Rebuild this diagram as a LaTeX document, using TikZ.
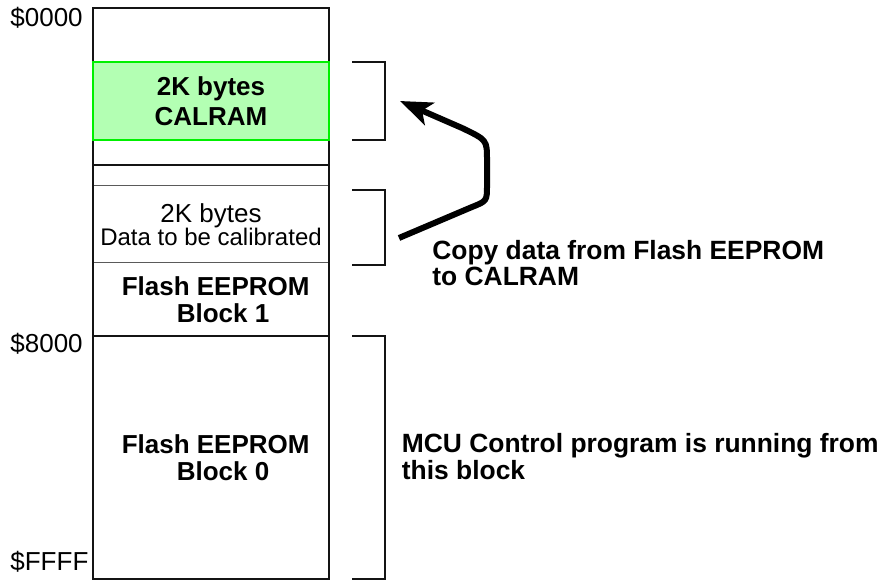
\documentclass[tikz,border=0pt]{standalone}
\usepackage{fontspec}
\setmainfont{Liberation Sans}
\usetikzlibrary{arrows.meta,positioning,fit}
\definecolor{calbdr}{RGB}{0,240,0}
\definecolor{calfill}{RGB}{179,255,179}
\definecolor{lineclr}{RGB}{20,20,20}
\definecolor{thinclr}{RGB}{90,90,90}
\tikzset{
  memblk/.style={rectangle,draw=thinclr,line width=0.5pt,fill=white,
    minimum width=118pt,inner sep=0pt,outer sep=0pt,align=center,text=black},
  frame/.style={draw=lineclr,line width=1.2pt},
  calblk/.style={memblk,draw=calbdr,line width=1pt,fill=calfill,
    font=\fontsize{13}{15}\selectfont\bfseries},
  flblk/.style={memblk,font=\fontsize{13}{13.3}\selectfont\bfseries},
  adr/.style={font=\fontsize{13}{15}\selectfont,anchor=base west,inner sep=0pt},
  note/.style={font=\fontsize{13.2}{13}\selectfont\bfseries,align=left,
    anchor=north west,inner sep=0pt},
  brk/.style={draw=lineclr,line width=1pt},
  cparr/.style={-{Stealth[length=16pt,width=12pt,inset=4pt]},line width=3pt,
    color=black},
}
\begin{document}
\begin{tikzpicture}[x=0.5pt,y=-0.5pt]
  \useasboundingbox (0,0) rectangle (884,581);

  % RAM area
  \node[memblk,draw=lineclr,line width=0.7pt,minimum height=78.5pt,
    anchor=north west] (ram) at (93,8) {};
  \node[calblk,minimum height=39pt,below=27pt of ram.north] (calram)
    {2K bytes\\CALRAM};

  % Flash area
  \node[memblk,minimum height=10.5pt,anchor=north west] (gapblk) at (93,165) {};
  \node[memblk,minimum height=38.5pt,below=0pt of gapblk,
    font=\fontsize{12}{11.7}\selectfont] (datablk)
    {{\fontsize{13}{11.7}\selectfont 2K bytes}\\Data to be calibrated};
  \node[flblk,minimum height=36.5pt,below=0pt of datablk] (blk1)
    {\hspace*{4.7pt}Flash EEPROM\\\hspace*{12pt}Block 1};
  \node[flblk,frame,minimum height=121.5pt,below=0pt of blk1] (blk0)
    {\hspace*{4.7pt}Flash EEPROM\\\hspace*{12pt}Block 0};
  \draw[frame] (gapblk.north west) rectangle (blk0.south east);

  \foreach \nm/\y/\adrtxt in {a0000/27/0000, a8000/353/8000, affff/571/FFFF}{
    \node[adr] (\nm) at (10,\y) {\$\adrtxt};
  }

  \foreach \blk/\dt/\db in {calram/0/0, datablk/2/1, blk0/0/0}{
    \draw[brk] ([xshift=11.5pt,yshift=-\dt pt]\blk.north east)
      -- ([xshift=28pt,yshift=-\dt pt]\blk.north east)
      -- ([xshift=28pt,yshift=-\db pt]\blk.south east)
      -- ([xshift=11.5pt,yshift=-\db pt]\blk.south east);
  }

  % copy arrow
  \coordinate (cpfrom) at ([xshift=35pt,yshift=-6.75pt]datablk.east);
  \coordinate (cpto) at ([xshift=35.5pt]calram.east);
  \draw[cparr] (cpfrom) -- (472,207) .. controls (487,201) .. (487,185)
    -- (487,160) .. controls (487,140) .. (462,128) -- (cpto);

  \node[note] (cpnote) at (432,240) {Copy data from Flash EEPROM\\to CALRAM};
  \node[note,font=\fontsize{13.2}{12}\selectfont\bfseries] (runnote)
    at (401.5,433) {MCU Control program is running from\\this block};
\end{tikzpicture}
\end{document}
